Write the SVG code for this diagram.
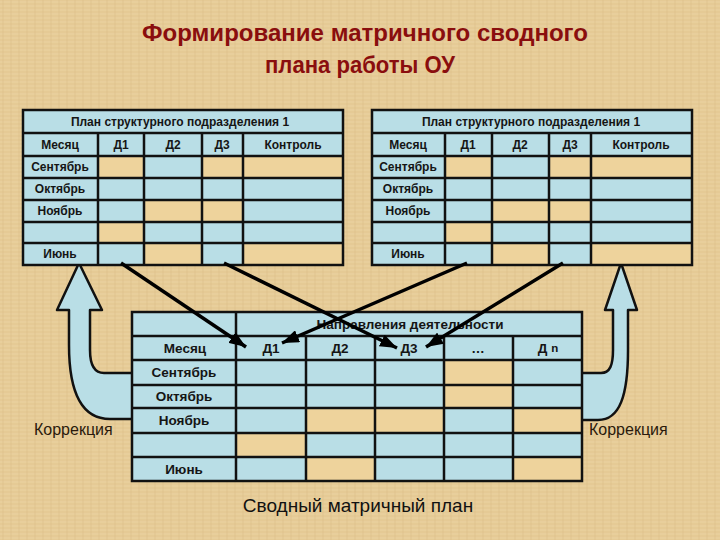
<svg xmlns="http://www.w3.org/2000/svg" width="720" height="540" viewBox="0 0 720 540">
<defs>
<pattern id="tex" width="8" height="8" patternUnits="userSpaceOnUse">
<rect width="8" height="8" fill="#e5ca95"/>
<path d="M0,2 H8 M0,6 H8" stroke="#edd7a8" stroke-width="1" opacity="0.7"/>
<path d="M3,0 V8" stroke="#d8bb84" stroke-width="1" opacity="0.5"/>
</pattern>
<marker id="ah" markerWidth="17" markerHeight="13" refX="17" refY="6.5" orient="auto" markerUnits="userSpaceOnUse">
<path d="M0,0 L17,6.5 L0,13 Z" fill="#000"/>
</marker>
<style>
.title{font-family:"Liberation Sans",Arial,sans-serif;font-weight:bold;font-size:23px;fill:#8a0e0e;text-anchor:middle}
.t{font-family:"Liberation Sans",Arial,sans-serif;font-weight:bold;font-size:12px;fill:#151515;text-anchor:middle;dominant-baseline:central}
.tb{font-family:"Liberation Sans",Arial,sans-serif;font-weight:bold;font-size:13.5px;fill:#151515;text-anchor:middle;dominant-baseline:central}
.cap{font-family:"Liberation Sans",Arial,sans-serif;font-weight:bold;font-size:12px;fill:#151515;text-anchor:middle;dominant-baseline:central}
.kor{font-family:"Liberation Sans",Arial,sans-serif;font-size:16px;fill:#2a1a0c;dominant-baseline:central}
.foot{font-family:"Liberation Sans",Arial,sans-serif;font-size:19px;fill:#111;text-anchor:middle;dominant-baseline:central}
.blue{fill:#b9dee6}
.tan{fill:#eed39c}
.grid{stroke:#111;stroke-width:2.5;fill:none}
.blk{fill:#b9dee6;stroke:#111;stroke-width:2.5;stroke-linejoin:round}
.ln{stroke:#000;stroke-width:3.5;fill:none;marker-end:url(#ah)}
</style>
</defs>
<rect width="720" height="540" fill="url(#tex)"/>

<g id="title">
<text class="title" x="365" y="41" textLength="446" lengthAdjust="spacingAndGlyphs">Формирование матричного сводного</text>
<text class="title" x="360" y="73" textLength="190" lengthAdjust="spacingAndGlyphs">плана работы ОУ</text>
</g>

<g id="correction-left">
<path class="blk" d="M134,373 L104,373 C94,373 90,365 90,350 L90,310 L102,310 L79,263 L57,310 L69,310 L69,345 C69,385 78,419 110,419 L134,419 Z"/>
<text class="kor" x="34" y="429">Коррекция</text>
</g>

<g id="correction-right">
<path class="blk" d="M580,373 L601,373 C610,373 613,365 613,350 L613,310 L605,310 L621,263 L637,310 L628,310 L628,350 C628,395 620,420 598,420 L580,420 Z"/>
<text class="kor" x="589" y="429">Коррекция</text>
</g>

<g id="plan-left">
<rect class="blue" x="23" y="110" width="320" height="155"/>
<rect class="tan" x="98" y="156" width="46" height="22"/>
<rect class="tan" x="202" y="156" width="41" height="22"/>
<rect class="tan" x="243" y="156" width="100" height="22"/>
<rect class="tan" x="144" y="200" width="58" height="22"/>
<rect class="tan" x="202" y="200" width="41" height="22"/>
<rect class="tan" x="98" y="222" width="46" height="21"/>
<rect class="tan" x="144" y="243" width="58" height="22"/>
<rect class="tan" x="243" y="243" width="100" height="22"/>
<rect class="grid" x="23" y="110" width="320" height="155"/>
<path class="grid" d="M23,133 H343 M23,156 H343 M23,178 H343 M23,200 H343 M23,222 H343 M23,243 H343 M98,133 V265 M144,133 V265 M202,133 V265 M243,133 V265"/>
<text class="cap" x="180" y="122">План структурного подразделения 1</text>
<text class="t" x="60" y="145">Месяц</text>
<text class="t" x="121" y="145">Д1</text>
<text class="t" x="173" y="145">Д2</text>
<text class="t" x="222" y="145">Д3</text>
<text class="t" x="293" y="145">Контроль</text>
<text class="t" x="60" y="167">Сентябрь</text>
<text class="t" x="60" y="189">Октябрь</text>
<text class="t" x="60" y="211">Ноябрь</text>
<text class="t" x="60" y="254">Июнь</text>
</g>

<g id="plan-right">
<rect class="blue" x="372" y="110" width="320" height="155"/>
<rect class="tan" x="445" y="156" width="47" height="22"/>
<rect class="tan" x="549" y="156" width="42" height="22"/>
<rect class="tan" x="591" y="156" width="101" height="22"/>
<rect class="tan" x="492" y="200" width="57" height="22"/>
<rect class="tan" x="549" y="200" width="42" height="22"/>
<rect class="tan" x="445" y="222" width="47" height="21"/>
<rect class="tan" x="492" y="243" width="57" height="22"/>
<rect class="tan" x="591" y="243" width="101" height="22"/>
<rect class="grid" x="372" y="110" width="320" height="155"/>
<path class="grid" d="M372,133 H692 M372,156 H692 M372,178 H692 M372,200 H692 M372,222 H692 M372,243 H692 M445,133 V265 M492,133 V265 M549,133 V265 M591,133 V265"/>
<text class="cap" x="531" y="122">План структурного подразделения 1</text>
<text class="t" x="408" y="145">Месяц</text>
<text class="t" x="468" y="145">Д1</text>
<text class="t" x="520" y="145">Д2</text>
<text class="t" x="570" y="145">Д3</text>
<text class="t" x="641" y="145">Контроль</text>
<text class="t" x="408" y="167">Сентябрь</text>
<text class="t" x="408" y="189">Октябрь</text>
<text class="t" x="408" y="211">Ноябрь</text>
<text class="t" x="408" y="254">Июнь</text>
</g>

<g id="summary-plan">
<rect class="blue" x="132" y="312" width="450" height="169"/>
<rect class="tan" x="444" y="360" width="69" height="48"/>
<rect class="tan" x="306" y="408" width="138" height="25"/>
<rect class="tan" x="513" y="408" width="69" height="25"/>
<rect class="tan" x="236" y="433" width="70" height="24"/>
<rect class="tan" x="306" y="457" width="69" height="24"/>
<rect class="tan" x="513" y="457" width="69" height="24"/>
<rect class="grid" x="132" y="312" width="450" height="169"/>
<path class="grid" d="M132,336 H582 M132,360 H582 M132,385 H582 M132,408 H582 M132,433 H582 M132,457 H582 M236,312 V481 M306,336 V481 M375,336 V481 M444,336 V481 M513,336 V481"/>
<text class="tb" x="410" y="324">Направления деятельности</text>
<text class="tb" x="185" y="348">Месяц</text>
<text class="tb" x="271" y="348">Д1</text>
<text class="tb" x="340" y="348">Д2</text>
<text class="tb" x="409" y="348">Д3</text>
<text class="tb" x="478" y="348">…</text>
<text class="tb" x="548" y="348">Д <tspan font-size="11.5">n</tspan></text>
<text class="tb" x="184" y="372">Сентябрь</text>
<text class="tb" x="184" y="396">Октябрь</text>
<text class="tb" x="184" y="420">Ноябрь</text>
<text class="tb" x="184" y="469">Июнь</text>
<text class="foot" x="358" y="505">Сводный матричный план</text>
</g>

<g id="connectors">
<line class="ln" x1="121" y1="263" x2="246" y2="347"/>
<line class="ln" x1="224" y1="263" x2="397" y2="348"/>
<line class="ln" x1="467" y1="263" x2="282" y2="343"/>
<line class="ln" x1="563" y1="263" x2="426" y2="347"/>
</g>
</svg>
